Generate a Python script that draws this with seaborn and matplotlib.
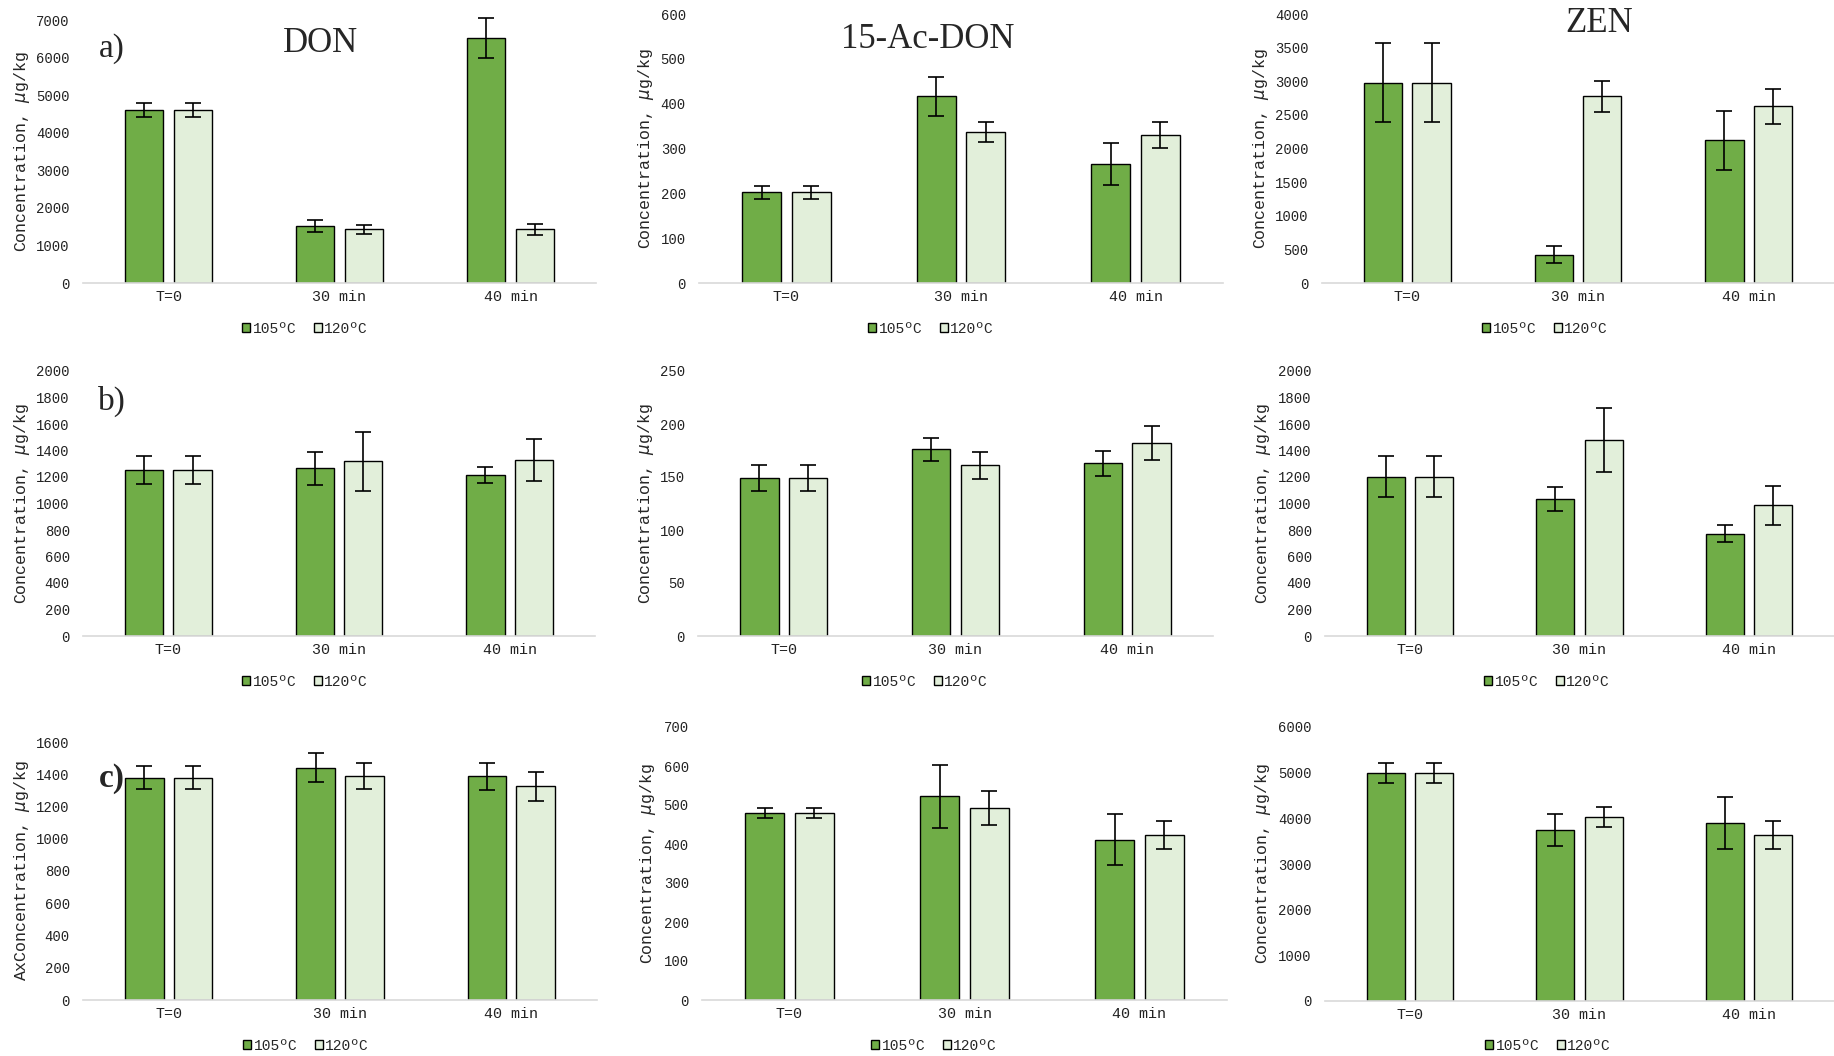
import numpy as np
import pandas as pd
import matplotlib
matplotlib.use("Agg")
import matplotlib.pyplot as plt
from matplotlib.patches import Patch
import seaborn as sns

# ---------------- data ----------------
times = ["T=0", "30 min", "40 min"]
temps = ["105ºC", "120ºC"]

don_a_105 = [4600, 1520, 6520]
don_a_105_err = [185, 160, 540]
don_a_120 = [4600, 1430, 1430]
don_a_120_err = [185, 115, 150]

ac_a_105 = [202, 416, 266]
ac_a_105_err = [15, 43, 47]
ac_a_120 = [202, 337, 330]
ac_a_120_err = [15, 23, 29]

zen_a_105 = [2980, 422, 2124]
zen_a_105_err = [590, 130, 440]
zen_a_120 = [2980, 2774, 2625]
zen_a_120_err = [590, 228, 265]

don_b_105 = [1253, 1265, 1215]
don_b_105_err = [103, 122, 63]
don_b_120 = [1253, 1318, 1328]
don_b_120_err = [103, 224, 160]

ac_b_105 = [149, 176, 163]
ac_b_105_err = [12, 10.5, 12]
ac_b_120 = [149, 161, 182]
ac_b_120_err = [12, 13, 16]

zen_b_105 = [1202, 1036, 772]
zen_b_105_err = [153, 90, 65]
zen_b_120 = [1202, 1482, 986]
zen_b_120_err = [153, 242, 146]

don_c_105 = [1379, 1441, 1387]
don_c_105_err = [73, 89, 85]
don_c_120 = [1379, 1387, 1325]
don_c_120_err = [73, 80, 89]

ac_c_105 = [479, 522, 411]
ac_c_105_err = [13, 80, 65]
ac_c_120 = [479, 493, 423]
ac_c_120_err = [13, 43, 35]

zen_c_105 = [5000, 3745, 3891]
zen_c_105_err = [220, 350, 570]
zen_c_120 = [5000, 4036, 3635]
zen_c_120_err = [220, 222, 310]

ylabel_std = "Concentration, $\\mu$g/kg"
ylabel_c0 = "AxConcentration, $\\mu$g/kg"

# ---------------- style ----------------
sns.set_theme(style="white")
plt.rcParams["font.family"] = ["Liberation Mono", "DejaVu Sans Mono", "DejaVu Sans"]
plt.rcParams["mathtext.fontset"] = "dejavusans"

DARK = "#70AD47"
LIGHT = "#E2EFDA"
W, H = 1834, 1056

fig = plt.figure(figsize=(W / 100, H / 100), dpi=100)


def add_ax(x0, x1, ytop, ybase):
    return fig.add_axes([x0 / W, 1 - ybase / H, (x1 - x0) / W, (ybase - ytop) / H])


# panel specs: (box, v105, e105, v120, e120, ymax, step, ylabel, label_x, legend_x, legend_y)
panels = [
    ((83, 596, 20, 283), don_a_105, don_a_105_err, don_a_120, don_a_120_err, 7000, 1000, ylabel_std, 22.5, 305, 329),
    ((699, 1223, 14, 283), ac_a_105, ac_a_105_err, ac_a_120, ac_a_120_err, 600, 100, ylabel_std, 645.7, 931, 329),
    ((1322, 1834, 14, 283), zen_a_105, zen_a_105_err, zen_a_120, zen_a_120_err, 4000, 500, ylabel_std, 1261, 1545, 329),
    ((83, 595, 371, 636), don_b_105, don_b_105_err, don_b_120, don_b_120_err, 2000, 200, ylabel_std, 21.7, 305, 682),
    ((698, 1213, 371, 636), ac_b_105, ac_b_105_err, ac_b_120, ac_b_120_err, 250, 50, ylabel_std, 645.7, 925, 682),
    ((1325, 1834, 371, 636), zen_b_105, zen_b_105_err, zen_b_120, zen_b_120_err, 2000, 200, ylabel_std, 1262.7, 1547, 682),
    ((83, 597, 742, 1000), don_c_105, don_c_105_err, don_c_120, don_c_120_err, 1600, 200, ylabel_c0, 22.5, 306, 1046),
    ((702, 1227, 727, 1000), ac_c_105, ac_c_105_err, ac_c_120, ac_c_120_err, 700, 100, ylabel_std, 647.7, 934, 1046),
    ((1325, 1834, 727, 1001), zen_c_105, zen_c_105_err, zen_c_120, zen_c_120_err, 6000, 1000, ylabel_std, 1262.7, 1548, 1046),
]

for box, v1, e1, v2, e2, ymax, step, ylab, lab_x, leg_x, leg_y in panels:
    x0, x1, ytop, ybase = box
    ax = add_ax(x0, x1, ytop, ybase)
    df = pd.DataFrame({
        "time": times * 2,
        "temp": [temps[0]] * 3 + [temps[1]] * 3,
        "conc": list(v1) + list(v2),
    })
    sns.barplot(data=df, x="time", y="conc", hue="temp", order=times, hue_order=temps,
                palette=[DARK, LIGHT], width=0.568, gap=0.21, edgecolor="black",
                linewidth=1.0, errorbar=None, legend=False, saturation=1, ax=ax)
    for cont, vals, errs in zip(ax.containers, [v1, v2], [e1, e2]):
        xs = [b.get_x() + b.get_width() / 2 for b in cont]
        eb = ax.errorbar(xs, vals, yerr=errs, fmt="none", ecolor="black", elinewidth=1.2,
                         capsize=5.5, capthick=1.2, zorder=5)
        for art in eb.lines[1] + eb.lines[2]:
            art.set_clip_on(False)
    ax.set_xlim(-0.5, 2.5)
    ax.set_ylim(0, ymax)
    ax.set_yticks(np.arange(0, ymax + step / 2, step))
    ax.set_xlabel("")
    ax.set_ylabel(ylab, fontsize=12, va="center", ha="center")
    ax.yaxis.set_label_coords((lab_x - x0) / (x1 - x0), 0.5)
    ax.tick_params(axis="both", length=0, colors="#222222")
    ax.tick_params(axis="y", pad=9.5, labelsize=10)
    ax.tick_params(axis="x", pad=5, labelsize=10.8)
    for s in ["top", "right", "left"]:
        ax.spines[s].set_visible(False)
    ax.spines["bottom"].set_color("#D9D9D9")
    ax.spines["bottom"].set_linewidth(1.2)
    ax.grid(False)

    handles = [Patch(facecolor=DARK, edgecolor="black", linewidth=1.0),
               Patch(facecolor=LIGHT, edgecolor="black", linewidth=1.0)]
    fig.legend(handles, temps, loc="center", bbox_to_anchor=(leg_x / W, 1 - leg_y / H),
               ncol=2, frameon=False, fontsize=10.5, handlelength=0.55, handleheight=0.55,
               handletextpad=0.15, columnspacing=1.2, borderpad=0)

serif = ["Liberation Serif", "DejaVu Serif"]
fig.text(320 / W, 1 - 44 / H, "DON", ha="center", va="center", fontsize=25, family=serif)
fig.text(928 / W, 1 - 39 / H, "15-Ac-DON", ha="center", va="center", fontsize=25, family=serif)
fig.text(1599 / W, 1 - 23 / H, "ZEN", ha="center", va="center", fontsize=25, family=serif)

fig.text(99 / W, 1 - 49 / H, "a)", ha="left", va="center", fontsize=24, family=serif)
fig.text(98 / W, 1 - 401 / H, "b)", ha="left", va="center", fontsize=24, family=serif)
fig.text(99 / W, 1 - 778 / H, "c)", ha="left", va="center", fontsize=24, family=serif, weight="bold")

fig.savefig("out.png", dpi=100, facecolor="white")
